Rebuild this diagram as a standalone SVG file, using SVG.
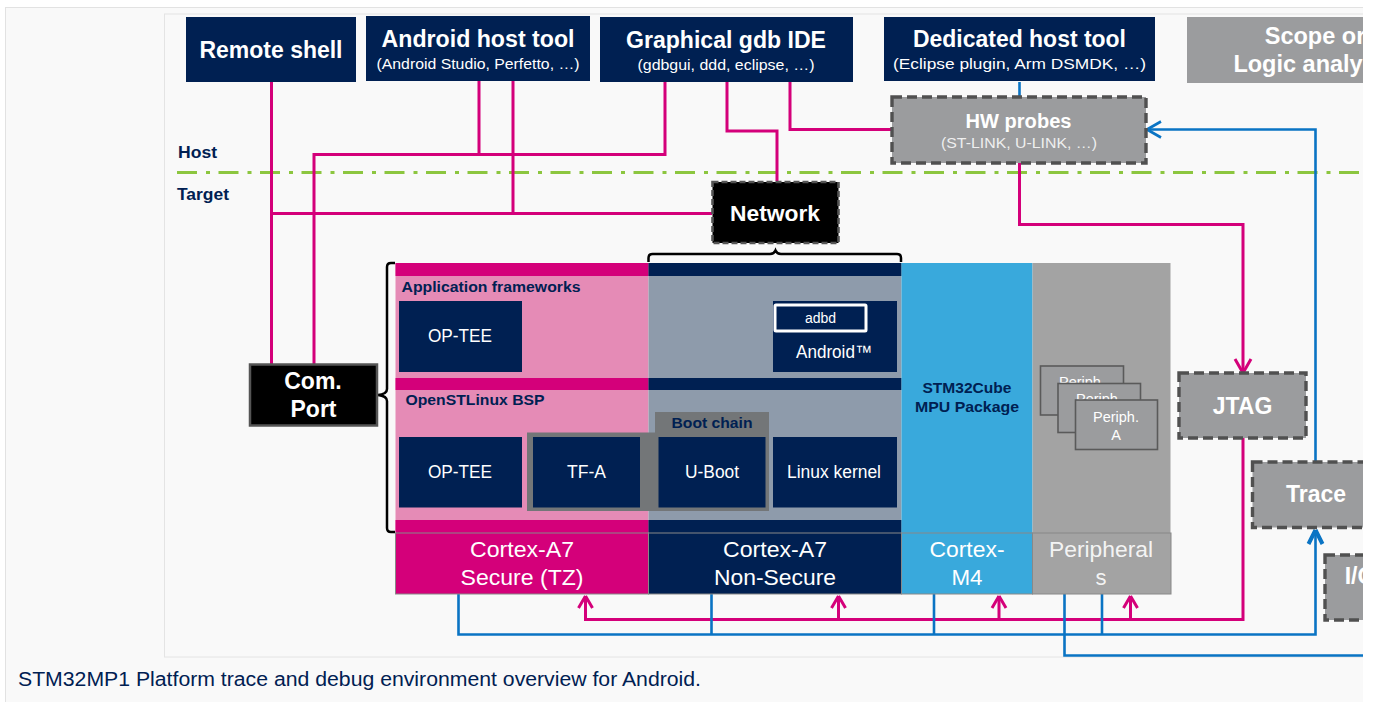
<svg xmlns="http://www.w3.org/2000/svg" width="1376" height="702" viewBox="0 0 1376 702">
<style>
text{font-family:"Liberation Sans",Arial,sans-serif;text-anchor:middle}
.w{fill:#fff}.b{font-weight:bold}.n{fill:#002052}
.navy{fill:#002052}.pk{stroke:#d4007a;stroke-width:3;fill:none}.bl{stroke:#0a74c4;stroke-width:2.6;fill:none}
.dash{fill:#9b9c9e;stroke:#505050;stroke-width:3.4;stroke-dasharray:10 5}
.per{fill:#9b9c9e;stroke:#5a5a5a;stroke-width:1.6}
.l{text-anchor:start}
</style>
<defs>
<clipPath id="c"><rect x="0" y="0" width="1363" height="702"/></clipPath>
</defs>
<rect width="1376" height="702" fill="#fff"/>
<g clip-path="url(#c)">
<rect x="5.500" y="7.500" width="1380" height="700" fill="#f9f9f9" stroke="#e2e2e2"/>
<rect x="164.500" y="14" width="1230" height="643" fill="#f9f9f9" stroke="#e4e4e4"/>
<path d="M177 172.500H1363" stroke="#8cc63f" stroke-width="3" stroke-dasharray="20 9 4 8.500" fill="none"/>
<text class="n b l" x="178" y="158" font-size="17" textLength="39" lengthAdjust="spacingAndGlyphs">Host</text>
<text class="n b l" x="177" y="200" font-size="17" textLength="52" lengthAdjust="spacingAndGlyphs">Target</text>

<g id="connectors">
<path class="pk" d="M271.500 82V364M479 81V154M513 81V213M314 364V154.500H665V82M272 213.500H712M727 82V131H777V181M790 82V129.500H892M1019.500 163V224.500H1243V373" />
<path d="M1243 373l-8-14M1243 373l8-14" class="pk"/>
<path class="pk" d="M1243 438V619.500H585.500V596M838.500 619.500V596M999 619.500V596M1130.500 619.500V596"/>
<path class="pk" d="M585.500 596l-7 12M585.500 596l7 12M838.500 596l-7 12M838.500 596l7 12M999 596l-7 12M999 596l7 12M1130.500 596l-7 12M1130.500 596l7 12"/>
<path class="bl" d="M1019.500 82V97M458.500 594V634.500H1315.500V530M711.500 594V634.500M934 594V634.500M1102 594V634.500M1064.500 594V655.500H1370"/>
<path d="M1315.500 530l-7 14M1315.500 530l7 14" class="bl" stroke-width="4" style="stroke-width:4"/>
<path class="bl" d="M1315.500 462V129.500H1147"/>
<path d="M1147 129.500l14-8M1147 129.500l14 8" class="bl"/>
</g>

<g id="remote-shell"><rect class="navy" x="186" y="17" width="170" height="65"/><text class="w b" x="271" y="58" font-size="23" textLength="143" lengthAdjust="spacingAndGlyphs">Remote shell</text></g>
<g id="android-host-tool"><rect class="navy" x="366" y="16" width="224" height="65"/><text class="w b" x="478" y="47" font-size="23.500" textLength="193" lengthAdjust="spacingAndGlyphs">Android host tool</text><text class="w" x="478" y="69" font-size="15" textLength="203" lengthAdjust="spacingAndGlyphs">(Android Studio, Perfetto, …)</text></g>
<g id="graphical-gdb"><rect class="navy" x="600" y="17" width="253" height="65"/><text class="w b" x="726" y="48" font-size="23.500" textLength="200" lengthAdjust="spacingAndGlyphs">Graphical gdb IDE</text><text class="w" x="726" y="70" font-size="15" textLength="177" lengthAdjust="spacingAndGlyphs">(gdbgui, ddd, eclipse, …)</text></g>
<g id="dedicated-host-tool"><rect class="navy" x="884" y="17" width="271" height="64"/><text class="w b" x="1019.500" y="47" font-size="23.500" textLength="213" lengthAdjust="spacingAndGlyphs">Dedicated host tool</text><text class="w" x="1019.500" y="69" font-size="15" textLength="253" lengthAdjust="spacingAndGlyphs">(Eclipse plugin, Arm DSMDK, …)</text></g>
<g id="scope"><rect fill="#9b9c9e" x="1187" y="17" width="220" height="66"/><text class="w b" x="1315" y="44" font-size="23.500">Scope or</text><text class="w b" x="1315" y="72" font-size="23.500">Logic analyzer</text></g>
<g id="hw-probes"><rect class="dash" x="892" y="97" width="254" height="66"/><text class="w b" x="1018.500" y="128" font-size="20" textLength="106" lengthAdjust="spacingAndGlyphs">HW probes</text><text class="w" x="1019" y="148" font-size="15" fill-opacity=".85" textLength="156" lengthAdjust="spacingAndGlyphs">(ST-LINK, U-LINK, …)</text></g>
<g id="network"><rect x="712.500" y="182" width="126" height="61" fill="#000" stroke="#555" stroke-width="2.600" stroke-dasharray="6 3"/><text class="w b" x="775" y="221" font-size="22" textLength="90" lengthAdjust="spacingAndGlyphs">Network</text></g>

<g id="braces" fill="none" stroke="#000" stroke-width="2.500">
<path d="M648.500 262V258Q648.500 254 652.500 254H770Q774 254 775.500 250.500Q777 254 781 254H897Q901 254 901 258V262"/>
<path d="M395 263H391Q387 263 387 267V389Q387 394 378 395Q387 396 387 401V528Q387 532 391 532H395"/>
</g>

<g id="columns">
<rect x="395.500" y="263" width="253" height="269" fill="#e58bb6"/>
<rect x="648.500" y="263" width="253" height="269" fill="#8e9bab"/>
<rect x="395.500" y="263" width="253" height="13" fill="#d4007a"/>
<rect x="648.500" y="263" width="253" height="13" fill="#002052"/>
<rect x="395.500" y="378" width="253" height="12" fill="#d4007a"/>
<rect x="648.500" y="378" width="253" height="12" fill="#002052"/>
<rect x="395.500" y="520" width="253" height="13" fill="#d4007a"/>
<rect x="648.500" y="520" width="253" height="13" fill="#002052"/>
<rect x="901.500" y="263" width="131" height="270" fill="#39a9dc"/>
<rect x="1032.500" y="263" width="138" height="270" fill="#a3a3a3"/>
<text class="n b l" x="401.500" y="292" font-size="14.500" textLength="179" lengthAdjust="spacingAndGlyphs">Application frameworks</text>
<text class="n b l" x="405.500" y="405" font-size="14.500" textLength="139" lengthAdjust="spacingAndGlyphs">OpenSTLinux BSP</text>
<text class="n b" x="967" y="393" font-size="14.500" textLength="89" lengthAdjust="spacingAndGlyphs">STM32Cube</text>
<text class="n b" x="967" y="412" font-size="14.500" textLength="104" lengthAdjust="spacingAndGlyphs">MPU Package</text>
</g>

<g id="op-tee-1"><rect class="navy" x="399" y="301" width="123" height="71"/><text class="w" x="460" y="342" font-size="18" textLength="64" lengthAdjust="spacingAndGlyphs">OP-TEE</text></g>
<g id="android"><rect class="navy" x="773" y="301" width="124" height="71"/><rect x="775" y="305" width="91" height="26" rx="1" fill="#002052" stroke="#fff" stroke-width="3"/><text class="w" x="820.500" y="323" font-size="14">adbd</text><text class="w" x="834" y="358" font-size="18" textLength="76" lengthAdjust="spacingAndGlyphs">Android™</text></g>
<g id="boot-chain"><path d="M527 432.500H655V412H769V511H527Z" fill="#737678"/><text class="n b" x="712" y="428" font-size="14.500" textLength="81" lengthAdjust="spacingAndGlyphs">Boot chain</text></g>
<g id="op-tee-2"><rect class="navy" x="399" y="437" width="123" height="70.500"/><text class="w" x="460" y="478" font-size="18" textLength="64" lengthAdjust="spacingAndGlyphs">OP-TEE</text></g>
<g id="tf-a"><rect class="navy" x="533" y="437" width="107" height="70.500"/><text class="w" x="586.500" y="478" font-size="18" textLength="39" lengthAdjust="spacingAndGlyphs">TF-A</text></g>
<g id="u-boot"><rect class="navy" x="658.500" y="437" width="107" height="70.500"/><text class="w" x="712" y="478" font-size="18" textLength="54" lengthAdjust="spacingAndGlyphs">U-Boot</text></g>
<g id="linux-kernel"><rect class="navy" x="773" y="437" width="124" height="70.500"/><text class="w" x="834" y="478" font-size="18" textLength="94" lengthAdjust="spacingAndGlyphs">Linux kernel</text></g>

<g id="periph-c"><rect class="per" x="1040.500" y="366" width="83" height="49"/><text class="w" x="1082" y="387" font-size="14.500">Periph.</text></g>
<g id="periph-b"><rect class="per" x="1058" y="383.500" width="82.500" height="49"/><text class="w" x="1099" y="404" font-size="14.500">Periph.</text></g>
<g id="periph-a"><rect class="per" x="1075.500" y="400" width="82" height="49.500"/><text class="w" x="1116" y="422" font-size="14.500">Periph.</text><text class="w" x="1116" y="440" font-size="14.500">A</text></g>

<g id="cortex-a7-s"><rect x="395.500" y="533" width="253" height="61" fill="#d4007a" stroke="#888" stroke-width="1"/><text class="w" x="522" y="557" font-size="22" textLength="104" lengthAdjust="spacingAndGlyphs">Cortex-A7</text><text class="w" x="522" y="585" font-size="22" textLength="123" lengthAdjust="spacingAndGlyphs">Secure (TZ)</text></g>
<g id="cortex-a7-ns"><rect x="648.500" y="533" width="253" height="61" fill="#002052" stroke="#888" stroke-width="1"/><text class="w" x="775" y="557" font-size="22" textLength="104" lengthAdjust="spacingAndGlyphs">Cortex-A7</text><text class="w" x="775" y="585" font-size="22" textLength="122" lengthAdjust="spacingAndGlyphs">Non-Secure</text></g>
<g id="cortex-m4"><rect x="901.500" y="533" width="131" height="61" fill="#39a9dc" stroke="#888" stroke-width="1"/><text class="w" x="967" y="557" font-size="22" textLength="75" lengthAdjust="spacingAndGlyphs">Cortex-</text><text class="w" x="967" y="585" font-size="22" textLength="31" lengthAdjust="spacingAndGlyphs">M4</text></g>
<g id="peripherals"><rect x="1032.500" y="533" width="138.500" height="61" fill="#a3a3a3" stroke="#888" stroke-width="1"/><text class="w" x="1101" y="557" font-size="22" fill-opacity=".9" textLength="104" lengthAdjust="spacingAndGlyphs">Peripheral</text><text class="w" x="1101" y="585" font-size="22" fill-opacity=".9">s</text></g>

<g id="com-port"><rect x="250" y="364.500" width="127" height="61" fill="#000" stroke="#555" stroke-width="2.500"/><text class="w b" x="313" y="389" font-size="23">Com.</text><text class="w b" x="313.500" y="417" font-size="23">Port</text></g>
<g id="jtag"><rect class="dash" x="1179" y="373" width="127" height="65"/><text class="w b" x="1242.500" y="414" font-size="23">JTAG</text></g>
<g id="trace"><rect class="dash" x="1252.500" y="462" width="127" height="65.500"/><text class="w b" x="1316" y="502" font-size="23">Trace</text></g>
<g id="io"><rect class="dash" x="1325" y="555" width="127" height="65"/><text class="w b" x="1360" y="584" font-size="23">I/O</text></g>

<text class="n l" x="18" y="686" font-size="20" textLength="683" lengthAdjust="spacingAndGlyphs">STM32MP1 Platform trace and debug environment overview for Android.</text>
</g>
</svg>
